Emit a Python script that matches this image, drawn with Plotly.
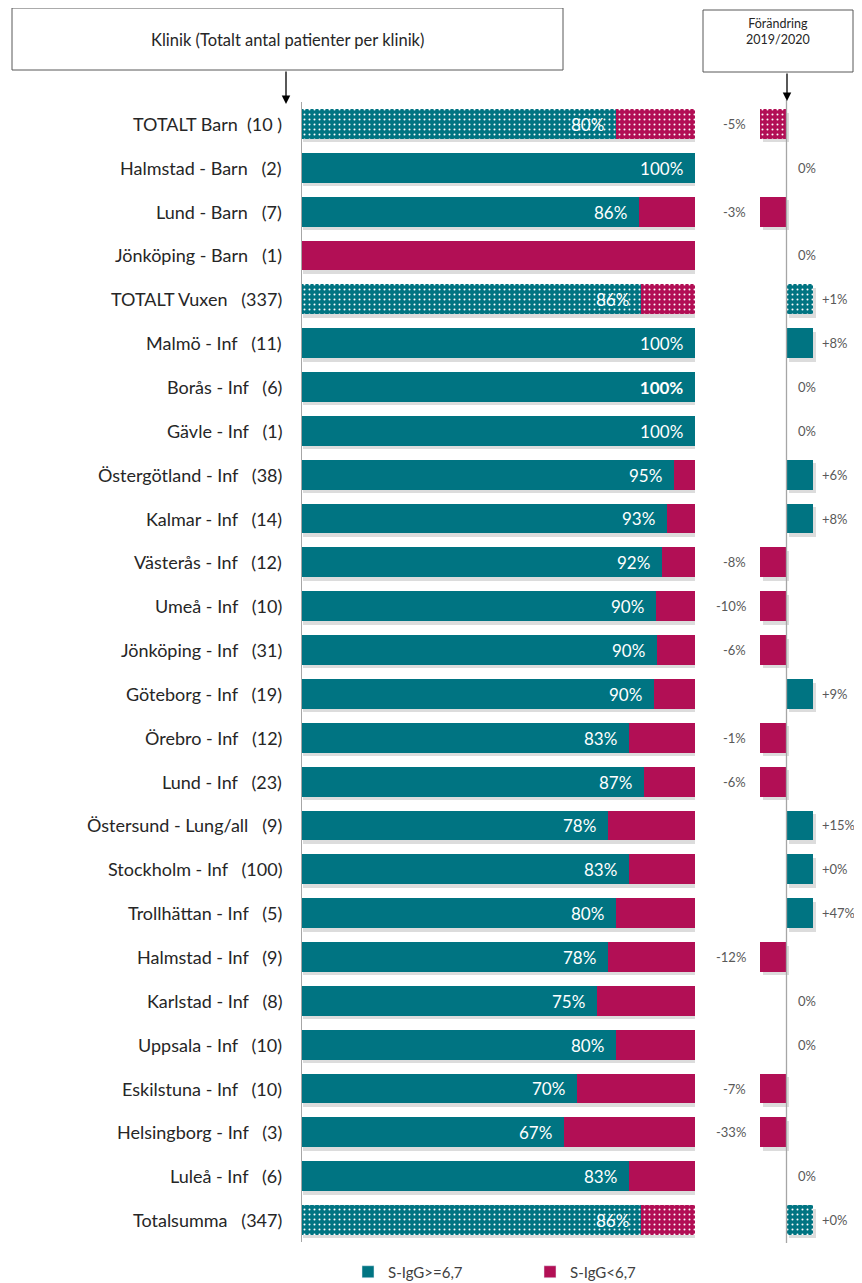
import plotly.graph_objects as go

# ---------------- data ----------------
clinics = ["TOTALT Barn", "Halmstad - Barn", "Lund - Barn", "Jönköping - Barn",
           "TOTALT Vuxen", "Malmö - Inf", "Borås - Inf", "Gävle - Inf",
           "Östergötland - Inf", "Kalmar - Inf", "Västerås - Inf", "Umeå - Inf",
           "Jönköping - Inf", "Göteborg - Inf", "Örebro - Inf", "Lund - Inf",
           "Östersund - Lung/all", "Stockholm - Inf", "Trollhättan - Inf",
           "Halmstad - Inf", "Karlstad - Inf", "Uppsala - Inf", "Eskilstuna - Inf",
           "Helsingborg - Inf", "Luleå - Inf", "Totalsumma"]
patients = ["10 ", "2", "7", "1", "337", "11", "6", "1", "38", "14", "12", "10",
            "31", "19", "12", "23", "9", "100", "5", "9", "8", "10", "10", "3", "6", "347"]
pct_ok = [80.0, 100.0, 85.7, 0.0, 86.3, 100.0, 100.0, 100.0, 94.7, 92.9, 91.7, 90.0,
          90.3, 89.5, 83.3, 87.0, 77.8, 83.2, 80.0, 77.8, 75.0, 80.0, 70.0, 66.7,
          83.3, 86.2]
change = [-5, 0, -3, 0, 1, 8, 0, 0, 6, 8, -8, -10, -6, 9, -1, -6, 15, 0.3, 47,
          -12, 0, 0, -7, -33, 0, 0.2]
is_total = [True, False, False, False, True] + [False] * 20 + [True]
bold_label = ["Borås - Inf"]

TEAL = "#007482"
MAG = "#B20F55"
W, H = 862, 1283
OFF = 8  # page body margin


def fx(px):
    return (px - OFF) / W


def fy(py):
    return 1 - (py - OFF) / H


n = len(clinics)
rows = list(range(n))
pct_bad = [100 - v for v in pct_ok]
ok_text = []
for c, v in zip(clinics, pct_ok):
    t = "" if v == 0 else f"{v:.0f}%"
    if c in bold_label and t:
        t = f"<b>{t}</b>"
    ok_text.append(t + "\u00a0\u00a0" if t else t)
pattern = ["." if t else "" for t in is_total]


def sgn(v):
    return 1 if v > 0 else (-1 if v < 0 else 0)


chg_dir = [sgn(v) for v in change]
chg_pos = [1 if d > 0 else 0 for d in chg_dir]
chg_neg = [-1 if d < 0 else 0 for d in chg_dir]

# change axis geometry (pixels of the reference)
Z0, PPU = 786.5, 26.5
X2L, X2R = 700, 861
x2_range = [(X2L - Z0) / PPU, (X2R - Z0) / PPU]

PAT = dict(size=5, solidity=0.13, fillmode="replace", fgcolor="white")

fig = go.Figure()

# soft shadows
SH = "rgba(80,80,80,0.20)"
fig.add_trace(go.Bar(y=rows, x=[100.8] * n, base=[0.2] * n, orientation="h",
                     width=0.68, offset=-0.34 + 0.08,
                     marker=dict(color=SH, line_width=0),
                     hoverinfo="skip", showlegend=False, xaxis="x", yaxis="y"))
fig.add_trace(go.Bar(y=rows, x=[d * 1.0 for d in chg_dir], base=[0.1] * n,
                     orientation="h", width=0.68, offset=-0.34 + 0.08,
                     marker=dict(color=SH, line_width=0),
                     hoverinfo="skip", showlegend=False, xaxis="x2", yaxis="y"))

# main stacked bars
fig.add_trace(go.Bar(y=rows, x=pct_ok, base=[0] * n, orientation="h", width=0.68,
                     marker=dict(color=TEAL, line_width=0,
                                 pattern=dict(shape=pattern, bgcolor=TEAL, **PAT)),
                     text=ok_text, textposition="inside", insidetextanchor="end",
                     textfont=dict(color="white", size=17, family="Lato"),
                     constraintext="none", cliponaxis=False,
                     hoverinfo="skip", showlegend=False, xaxis="x", yaxis="y"))
fig.add_trace(go.Bar(y=rows, x=pct_bad, base=pct_ok, orientation="h", width=0.68,
                     marker=dict(color=MAG, line_width=0,
                                 pattern=dict(shape=pattern, bgcolor=MAG, **PAT)),
                     hoverinfo="skip", showlegend=False, xaxis="x", yaxis="y"))

# change bars (positive teal, negative magenta)
fig.add_trace(go.Bar(y=rows, x=chg_pos, orientation="h", width=0.68,
                     marker=dict(color=TEAL, line_width=0,
                                 pattern=dict(shape=pattern, bgcolor=TEAL, **PAT)),
                     hoverinfo="skip", showlegend=False, xaxis="x2", yaxis="y"))
fig.add_trace(go.Bar(y=rows, x=chg_neg, orientation="h", width=0.68,
                     marker=dict(color=MAG, line_width=0,
                                 pattern=dict(shape=pattern, bgcolor=MAG, **PAT)),
                     hoverinfo="skip", showlegend=False, xaxis="x2", yaxis="y"))

# legend entries
fig.add_trace(go.Bar(y=[None], x=[None], name="S-IgG>=6,7", marker_color=TEAL,
                     orientation="h"))
fig.add_trace(go.Bar(y=[None], x=[None], name="S-IgG<6,7", marker_color=MAG,
                     orientation="h"))

annotations = []
# clinic labels
for r, c, p in zip(rows, clinics, patients):
    gap = "\u00a0\u00a0" if p.endswith(" ") else "\u00a0\u00a0\u00a0"
    label = f"{c}{gap}({p})"
    annotations.append(dict(x=fx(284), xref="paper", y=r, yref="y", text=label,
                            xanchor="right", yanchor="middle", showarrow=False,
                            font=dict(size=18, color="#262626", family="Lato")))
# change labels
for r, v, d in zip(rows, change, chg_dir):
    txt = (f"+{v:.0f}%" if d > 0 else f"{v:.0f}%")
    if d < 0:
        ax, anc = (748 - Z0) / PPU, "right"
    elif d > 0:
        ax, anc = (820 - Z0) / PPU, "left"
    else:
        ax, anc = (796 - Z0) / PPU, "left"
    annotations.append(dict(x=ax, xref="x2", y=r, yref="y", text=txt,
                            xanchor=anc, yanchor="middle", showarrow=False,
                            font=dict(size=13, color="#595959", family="Lato")))

# header boxes text
annotations.append(dict(x=fx((12 + 563) / 2), y=fy(40), xref="paper", yref="paper",
                        text="Klinik (Totalt antal patienter per klinik)", showarrow=False,
                        xanchor="center", yanchor="middle",
                        font=dict(size=16.5, color="#262626", family="Lato")))
annotations.append(dict(x=fx((703 + 853) / 2), y=fy(31), xref="paper", yref="paper",
                        text="Förändring<br>2019/2020", showarrow=False,
                        xanchor="center", yanchor="middle", align="center",
                        font=dict(size=12.5, color="#262626", family="Lato")))
# arrows
annotations.append(dict(x=fx(286), y=fy(104), xref="paper", yref="paper", text="",
                        showarrow=True, ax=0, ay=-34, arrowhead=2, arrowsize=1.3,
                        arrowwidth=1.3, arrowcolor="black"))
annotations.append(dict(x=fx(787), y=fy(101), xref="paper", yref="paper", text="",
                        showarrow=True, ax=0, ay=-29, arrowhead=2, arrowsize=1.3,
                        arrowwidth=1.3, arrowcolor="black"))

shapes = [
    dict(type="rect", xref="paper", yref="paper", x0=fx(12), x1=fx(563),
         y0=fy(70), y1=fy(8), line=dict(color="#595959", width=1),
         fillcolor="white", layer="below"),
    dict(type="rect", xref="paper", yref="paper", x0=fx(703), x1=fx(853),
         y0=fy(72), y1=fy(10), line=dict(color="#595959", width=1),
         fillcolor="white", layer="below"),
    dict(type="line", xref="x2", yref="paper", x0=0, x1=0, y0=fy(1243),
         y1=fy(100), line=dict(color="#A6A6A6", width=1.3), layer="above"),
]

fig.update_layout(
    width=W, height=H, margin=dict(l=0, r=0, t=0, b=0),
    paper_bgcolor="white", plot_bgcolor="rgba(0,0,0,0)",
    barmode="overlay", bargap=0,
    font=dict(family="Lato"),
    xaxis=dict(domain=[fx(302), fx(695)], range=[0, 100], visible=False, fixedrange=True),
    xaxis2=dict(domain=[fx(X2L), fx(X2R)], range=x2_range, visible=False, anchor="y"),
    yaxis=dict(domain=[fy(1242), fy(102)], range=[n - 0.5, -0.5], showticklabels=False,
               ticks="", showgrid=False, zeroline=False, showline=True,
               linecolor="#A6A6A6", linewidth=1.3, anchor="x"),
    legend=dict(orientation="h", x=fx(348), y=fy(1272), xanchor="left",
                yanchor="middle", entrywidth=137, font=dict(size=15, color="#404040"),
                itemwidth=30, traceorder="normal"),
    annotations=annotations, shapes=shapes,
)

fig.write_html("out.html")
